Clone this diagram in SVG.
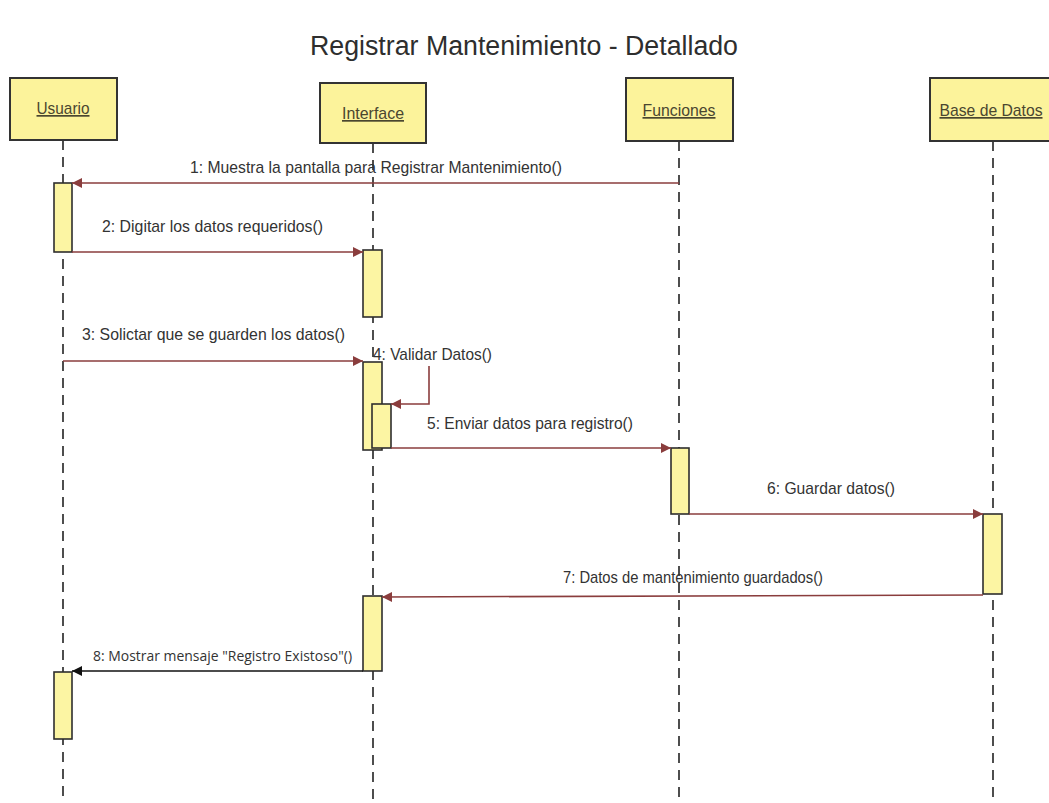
<svg xmlns="http://www.w3.org/2000/svg" width="1049" height="803" viewBox="0 0 1049 803">
  <defs>
    <style>
      .title { font-family: "Liberation Sans", Arial, sans-serif; font-size: 27px; fill: #2e2e2e; }
      .head { fill: #fcf39b; stroke: #333; stroke-width: 2; }
      .hlabel { font-family: "Liberation Sans", Arial, sans-serif; font-size: 17px; fill: #4a4630; text-decoration: underline; }
      .life { stroke: #222; stroke-width: 1.6; stroke-dasharray: 10 7; fill: none; }
      .act { fill: #fcf5a3; stroke: #2e2e2e; stroke-width: 1.6; }
      .msg { stroke: #8a3d3d; stroke-width: 1.6; fill: none; }
      .msgk { stroke: #111; stroke-width: 1.6; fill: none; }
      .mlabel { font-family: "Liberation Sans", Arial, sans-serif; font-size: 17px; fill: #333; }
      .mlabel2 { font-family: "Open Sans", "Liberation Sans", sans-serif; font-size: 15px; fill: #333; }
    </style>
    <marker id="arrR" viewBox="0 0 10 10" refX="10" refY="5" markerWidth="11" markerHeight="10" markerUnits="userSpaceOnUse" orient="auto">
      <path d="M0,0 L10,5 L0,10 Z" fill="#8a3d3d"/>
    </marker>
    <marker id="arrK" viewBox="0 0 10 10" refX="10" refY="5" markerWidth="11" markerHeight="10" markerUnits="userSpaceOnUse" orient="auto">
      <path d="M0,0 L10,5 L0,10 Z" fill="#111"/>
    </marker>
  </defs>

  <rect width="1049" height="803" fill="#ffffff"/>

  <text class="title" x="524" y="55" text-anchor="middle" textLength="428" lengthAdjust="spacingAndGlyphs">Registrar Mantenimiento - Detallado</text>

  <!-- Usuario -->
  <g id="usuario">
    <line class="life" x1="63" y1="140" x2="63" y2="803"/>
    <rect class="head" x="10" y="78" width="107" height="62"/>
    <text class="hlabel" x="63" y="114" text-anchor="middle" textLength="53" lengthAdjust="spacingAndGlyphs">Usuario</text>
    <rect class="act" x="54" y="183" width="18" height="69"/>
    <rect class="act" x="54" y="672" width="18" height="67"/>
  </g>

  <!-- Interface -->
  <g id="interface">
    <line class="life" x1="373" y1="143" x2="373" y2="803"/>
    <rect class="head" x="320" y="83" width="106" height="60"/>
    <text class="hlabel" x="373" y="119" text-anchor="middle" textLength="62" lengthAdjust="spacingAndGlyphs">Interface</text>
    <rect class="act" x="363" y="250" width="19" height="67"/>
    <rect class="act" x="363" y="362" width="19" height="88"/>
    <rect class="act" x="372" y="404" width="19" height="44"/>
    <rect class="act" x="363" y="596" width="19" height="75"/>
  </g>

  <!-- Funciones -->
  <g id="funciones">
    <line class="life" x1="679" y1="141" x2="679" y2="803"/>
    <rect class="head" x="626" y="78" width="107" height="63"/>
    <text class="hlabel" x="679" y="116" text-anchor="middle" textLength="73" lengthAdjust="spacingAndGlyphs">Funciones</text>
    <rect class="act" x="671" y="448" width="18" height="66"/>
  </g>

  <!-- Base de Datos -->
  <g id="base-de-datos">
    <line class="life" x1="993" y1="141" x2="993" y2="803"/>
    <rect class="head" x="930" y="78" width="122" height="63"/>
    <text class="hlabel" x="991" y="116" text-anchor="middle" textLength="103" lengthAdjust="spacingAndGlyphs">Base de Datos</text>
    <rect class="act" x="983" y="514" width="19" height="80"/>
  </g>

  <!-- Messages -->
  <g id="connectors">
    <line class="msg" x1="679" y1="183" x2="72" y2="183" marker-end="url(#arrR)"/>
    <text class="mlabel" x="190" y="173" textLength="372" lengthAdjust="spacingAndGlyphs">1: Muestra la pantalla para Registrar Mantenimiento()</text>

    <line class="msg" x1="72" y1="252" x2="363" y2="252" marker-end="url(#arrR)"/>
    <text class="mlabel" x="102" y="232" textLength="221" lengthAdjust="spacingAndGlyphs">2: Digitar los datos requeridos()</text>

    <line class="msg" x1="63" y1="361" x2="363" y2="361" marker-end="url(#arrR)"/>
    <text class="mlabel" x="82" y="340" textLength="263" lengthAdjust="spacingAndGlyphs">3: Solictar que se guarden los datos()</text>

    <path class="msg" d="M429,366 L429,404 L391,404" marker-end="url(#arrR)"/>
    <text class="mlabel" x="373" y="360" textLength="119" lengthAdjust="spacingAndGlyphs">4: Validar Datos()</text>

    <line class="msg" x1="391" y1="448" x2="671" y2="448" marker-end="url(#arrR)"/>
    <text class="mlabel" x="427" y="429" textLength="206" lengthAdjust="spacingAndGlyphs">5: Enviar datos para registro()</text>

    <line class="msg" x1="689" y1="514" x2="983" y2="514" marker-end="url(#arrR)"/>
    <text class="mlabel" x="767" y="494" textLength="128" lengthAdjust="spacingAndGlyphs">6: Guardar datos()</text>

    <line class="msg" x1="983" y1="595" x2="382" y2="597" marker-end="url(#arrR)"/>
    <text class="mlabel" x="563" y="583" textLength="260" lengthAdjust="spacingAndGlyphs">7: Datos de mantenimiento guardados()</text>

    <line class="msgk" x1="363" y1="671" x2="72" y2="671" marker-end="url(#arrK)"/>
    <text class="mlabel2" x="93" y="661" textLength="259" lengthAdjust="spacingAndGlyphs">8: Mostrar mensaje "Registro Existoso"()</text>
  </g>
</svg>
